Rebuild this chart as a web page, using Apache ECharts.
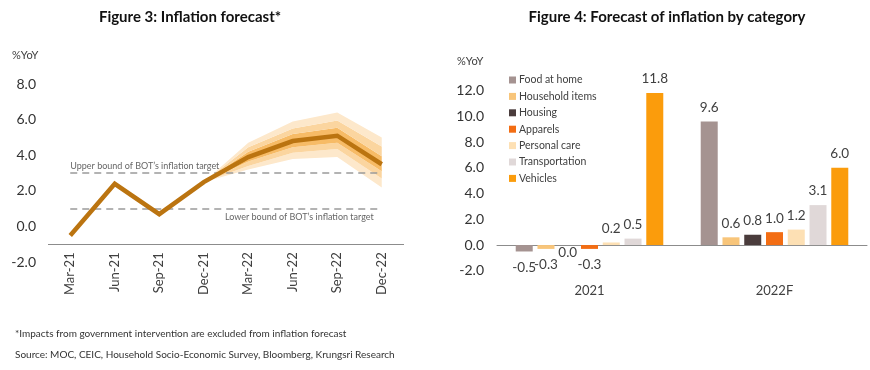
<!DOCTYPE html>
<html><head><meta charset="utf-8">
<script src="https://cdn.jsdelivr.net/npm/echarts@6/dist/echarts.min.js"></script>
<style>html,body{margin:0;padding:0;background:#fff}#c{width:870px;height:370px}</style>
</head><body><div id="c"></div>
<script>
// ---- Figure 3 data ----
const quarters = ['Mar-21','Jun-21','Sep-21','Dec-21','Mar-22','Jun-22','Sep-22','Dec-22'];
const inflation = [-0.5, 2.4, 0.7, 2.5, 3.9, 4.8, 5.1, 3.5];
const fanOuterLow  = ['-','-','-',2.5,3.2,3.8,3.9,2.2];
const fanMidLow    = ['-','-','-',2.5,3.4,4.15,4.35,2.7];
const fanInnerLow  = ['-','-','-',2.5,3.65,4.45,4.7,3.1];
const fanInnerHigh = ['-','-','-',2.5,4.2,5.2,5.55,3.95];
const fanMidHigh   = ['-','-','-',2.5,4.45,5.5,5.95,4.5];
const fanOuterHigh = ['-','-','-',2.5,4.7,5.9,6.4,5.0];
const upperBound = 3.0, lowerBound = 1.0, crossAt = -1.0;
const leftTicks = {min:-2, max:8, interval:2};

// ---- Figure 4 data ----
const years = ['2021','2022F'];
const categories = ['Food at home','Household items','Housing','Apparels','Personal care','Transportation','Vehicles'];
const catValues = [
  [-0.5, 9.6],
  [-0.3, 0.6],
  [0.0, 0.8],
  [-0.3, 1.0],
  [0.2, 1.2],
  [0.5, 3.1],
  [11.8, 6.0]
];
const rightTicks = {min:-2, max:12, interval:2};
const catColors = ['#a59391','#f8c57a','#4a3c3c','#f36d13','#fde0b4','#e0d8d8','#fb9c0c'];

const FONT = 'Lato';
const chart = echarts.init(document.getElementById('c'), null, {renderer:'canvas'});

function diff(a,b){ return a.map((v,i)=> (v==='-'||b[i]==='-') ? '-' : +(v-b[i]).toFixed(3)); }
const fanParts = [
  {data: fanOuterLow, color: 'rgba(0,0,0,0)'},
  {data: diff(fanMidLow, fanOuterLow), color: '#fde8cb'},
  {data: diff(fanInnerLow, fanMidLow), color: '#fbd59f'},
  {data: diff(fanInnerHigh, fanInnerLow), color: '#f7bb66'},
  {data: diff(fanMidHigh, fanInnerHigh), color: '#fbd59f'},
  {data: diff(fanOuterHigh, fanMidHigh), color: '#fde8cb'}
];
const fanSeries = fanParts.map((p,i)=>({
  type:'line', xAxisIndex:0, yAxisIndex:0, stack:'fan', data:p.data, symbol:'none', silent:true,
  lineStyle:{width:0}, areaStyle:{color:p.color, opacity:1}, z:1
}));

const barSeries = categories.map((name,i)=>({
  name, type:'bar', xAxisIndex:1, yAxisIndex:1,
  barWidth:17, barGap:'28%',
  itemStyle:{color:catColors[i]},
  data: catValues[i].map(v=>({value:v, label:{position: v<=0 ? 'bottom':'top', distance: v<0 ? 9 : (v===0 ? 1 : 7)}})),
  label:{show:true, formatter:(p)=>p.value.toFixed(1), fontFamily:FONT, fontSize:13.5, color:'#404040'}
}));

chart.setOption({
  animation:false,
  textStyle:{fontFamily:FONT},
  graphic:[
    {type:'text', x:190, y:10, style:{text:'Figure 3: Inflation forecast*', font:'bold 15px '+FONT, fill:'#111', textAlign:'center'}},
    {type:'text', x:667, y:10, style:{text:'Figure 4: Forecast of inflation by category', font:'bold 15px '+FONT, fill:'#111', textAlign:'center'}},
    {type:'text', x:12, y:50, style:{text:'%YoY', font:'11px '+FONT, fill:'#404040'}},
    {type:'text', x:457, y:56, style:{text:'%YoY', font:'11px '+FONT, fill:'#404040'}},
    {type:'text', x:15, y:329, style:{text:'*Impacts from government intervention are excluded from inflation forecast', font:'10px '+FONT, fill:'#333'}},
    {type:'text', x:15, y:350, style:{text:'Source: MOC, CEIC, Household Socio-Economic Survey, Bloomberg, Krungsri Research', font:'10px '+FONT, fill:'#333'}}
  ],
  legend:{
    orient:'vertical', left:504, top:69, itemWidth:7, itemHeight:7, itemGap:4.4,
    icon:'rect', data:categories,
    textStyle:{fontFamily:FONT, fontSize:10.5, color:'#404040', lineHeight:12, padding:[0,0,0,-2]}
  },
  grid:[
    {left:48, right:466, top:84, height:178.3},
    {left:497, right:3, top:90.5, height:180.3}
  ],
  xAxis:[
    {type:'category', gridIndex:0, data:quarters, boundaryGap:true,
     axisLine:{show:false}, axisTick:{show:false},
     axisLabel:{rotate:90, margin:-10, fontFamily:FONT, fontSize:13, color:'#404040', interval:0}},
    {type:'category', gridIndex:1, data:years,
     axisLine:{show:true, onZero:true, lineStyle:{color:'#8c8c8c', width:1}}, axisTick:{show:false},
     axisLabel:{margin:14, fontFamily:FONT, fontSize:13, color:'#404040'}}
  ],
  yAxis:[
    {type:'value', gridIndex:0, min:leftTicks.min, max:leftTicks.max, interval:leftTicks.interval,
     splitLine:{show:false}, axisLine:{show:false}, axisTick:{show:false},
     axisLabel:{margin:12, formatter:v=>v.toFixed(1), fontFamily:FONT, fontSize:14, color:'#333'}},
    {type:'value', gridIndex:1, min:rightTicks.min, max:rightTicks.max, interval:rightTicks.interval,
     splitLine:{show:false}, axisLine:{show:false}, axisTick:{show:false},
     axisLabel:{margin:13, formatter:v=>v.toFixed(1), fontFamily:FONT, fontSize:14, color:'#333'}}
  ],
  series:[
    ...fanSeries,
    {type:'line', xAxisIndex:0, yAxisIndex:0, data:inflation, symbol:'none', z:5,
     lineStyle:{color:'#bb7410', width:4.5, join:'miter'},
     markLine:{
       silent:true, symbol:['none','none'], animation:false,
       data:[
         {yAxis:crossAt, lineStyle:{color:'#8c8c8c', width:1, type:'solid'}, label:{show:false}},
         [{coord:[quarters[0], upperBound]}, {coord:[quarters[quarters.length-1], upperBound],
           lineStyle:{color:'#9a9a9a', width:1.5, type:[7,5]},
           label:{show:true, position:'insideStartTop', formatter:'Upper bound of BOT\u2019s inflation target', fontFamily:FONT, fontSize:9, color:'#666', distance:[0,3]}}],
         [{coord:[quarters[0], lowerBound]}, {coord:[quarters[quarters.length-1], lowerBound],
           lineStyle:{color:'#9a9a9a', width:1.5, type:[7,5]},
           label:{show:true, position:'insideEndBottom', formatter:'Lower bound of BOT\u2019s inflation target', fontFamily:FONT, fontSize:9, color:'#666', distance:[8,4]}}]
       ]
     }},
    ...barSeries
  ]
});
</script></body></html>
